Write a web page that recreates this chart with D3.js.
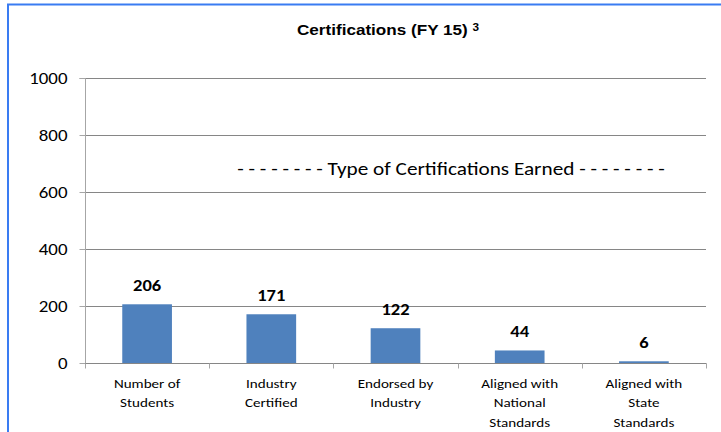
<!DOCTYPE html>
<html>
<head>
<meta charset="utf-8">
<script src="https://cdn.jsdelivr.net/npm/d3@7"></script>
<style>
  html, body { margin: 0; padding: 0; background: #fff; }
  svg { display: block; }
</style>
</head>
<body>
<svg id="chart" width="721" height="432"></svg>
<script>
// Certification counts for FY 15
const categories = [
  ["Number of", "Students"],
  ["Industry", "Certified"],
  ["Endorsed by", "Industry"],
  ["Aligned with", "National", "Standards"],
  ["Aligned with", "State", "Standards"]
];
const values = [206, 171, 122, 44, 6];
const yTicks = [0, 200, 400, 600, 800, 1000];
const titleText = "Certifications (FY 15)";
const titleNote = "3";
const annotation = "- - - - - - - - Type of Certifications Earned - - - - - - - -";

const svg = d3.select("#chart");
const bodyFont = "Carlito, Lato, 'Open Sans', sans-serif";
// the whole chart is drawn slightly wide, so glyphs are stretched horizontally
const SX = 1.18;
const stretch = (x, y) => `translate(${x},${y}) scale(${SX},1)`;

// Frame of the chart object
svg.append("line").attr("x1", 7).attr("x2", 721).attr("y1", 4.5).attr("y2", 4.5)
  .attr("stroke", "#3a7cf2").attr("stroke-width", 2);
svg.append("line").attr("x1", 8).attr("x2", 8).attr("y1", 4).attr("y2", 432)
  .attr("stroke", "#3a7cf2").attr("stroke-width", 2);

const plot = { left: 85, right: 706, top: 78, bottom: 363 };

const x = d3.scaleBand()
  .domain(d3.range(values.length))
  .range([plot.left, plot.right])
  .paddingInner(0.6)
  .paddingOuter(0.3);
const xOuter = d3.scaleBand()
  .domain(d3.range(values.length))
  .range([plot.left, plot.right]);

const y = d3.scaleLinear().domain([0, 1000]).range([plot.bottom, plot.top]);

// Horizontal gridlines
svg.append("g")
  .selectAll("line")
  .data(yTicks.filter(d => d > 0))
  .join("line")
  .attr("x1", plot.left).attr("x2", plot.right)
  .attr("y1", d => Math.round(y(d)) + 0.5).attr("y2", d => Math.round(y(d)) + 0.5)
  .attr("stroke", "#868686").attr("stroke-width", 1);

// Y axis
const yAxis = d3.axisLeft(y).tickValues(yTicks).tickSize(6).tickPadding(6).tickFormat(d3.format("d"));
const gy = svg.append("g").attr("transform", `translate(${plot.left + 0.5},0.5)`).call(yAxis);
gy.select(".domain").attr("stroke", "#a6a6a6").attr("d", `M-6,${plot.top}H0V${plot.bottom}`);
gy.selectAll(".tick line").attr("stroke", "#a6a6a6");
gy.selectAll(".tick").attr("transform", d => `translate(0,${Math.round(y(d))})`);
gy.selectAll(".tick text")
  .attr("x", 0).attr("dy", "0.34em")
  .attr("transform", stretch(-18, 0))
  .attr("font-family", bodyFont).attr("font-size", 16).attr("fill", "#000");

// Bars
svg.append("g")
  .selectAll("rect")
  .data(values)
  .join("rect")
  .attr("x", (d, i) => x(i))
  .attr("y", d => y(d))
  .attr("width", x.bandwidth())
  .attr("height", d => y(0) - y(d))
  .attr("fill", "#4f81bd");

// X axis baseline and category ticks
const gx = svg.append("g").attr("transform", `translate(0,${Math.round(y(0)) + 0.5})`);
gx.append("line").attr("x1", plot.left).attr("x2", plot.right + 0.5)
  .attr("stroke", "#868686");
gx.selectAll("line.tick")
  .data(d3.range(values.length + 1))
  .join("line").attr("class", "tick")
  .attr("x1", i => Math.round(plot.left + i * xOuter.step()) + 0.5)
  .attr("x2", i => Math.round(plot.left + i * xOuter.step()) + 0.5)
  .attr("y1", 0).attr("y2", 5)
  .attr("stroke", "#a6a6a6");

// Category labels
const catG = svg.append("g");
categories.forEach((lines, i) => {
  const cx = xOuter(i) + xOuter.bandwidth() / 2;
  const t = catG.append("text")
    .attr("transform", stretch(cx, 388))
    .attr("text-anchor", "middle")
    .attr("font-family", bodyFont).attr("font-size", 12.8).attr("fill", "#000");
  lines.forEach((ln, j) => {
    t.append("tspan").attr("x", 0).attr("dy", j === 0 ? 0 : 19.5).text(ln);
  });
});

// Value labels
svg.append("g")
  .selectAll("text")
  .data(values)
  .join("text")
  .attr("transform", (d, i) => stretch(x(i) + x.bandwidth() / 2, y(d) - 13))
  .attr("text-anchor", "middle")
  .attr("font-family", bodyFont).attr("font-weight", "bold").attr("font-size", 15.7)
  .attr("fill", "#000")
  .text(d => d);

// Title
const title = svg.append("text")
  .attr("transform", stretch(388, 35))
  .attr("text-anchor", "middle")
  .attr("font-family", "'Liberation Sans', Arial, sans-serif")
  .attr("font-weight", "bold").attr("font-size", 14.5).attr("fill", "#000");
title.append("tspan").text(titleText + " ");
title.append("tspan").attr("font-size", 10).attr("dy", -4).text(titleNote);

// Annotation
svg.append("text")
  .attr("transform", stretch(451, 175))
  .attr("text-anchor", "middle")
  .attr("font-family", bodyFont).attr("font-size", 18).attr("fill", "#000")
  .text(annotation);
</script>
</body>
</html>
